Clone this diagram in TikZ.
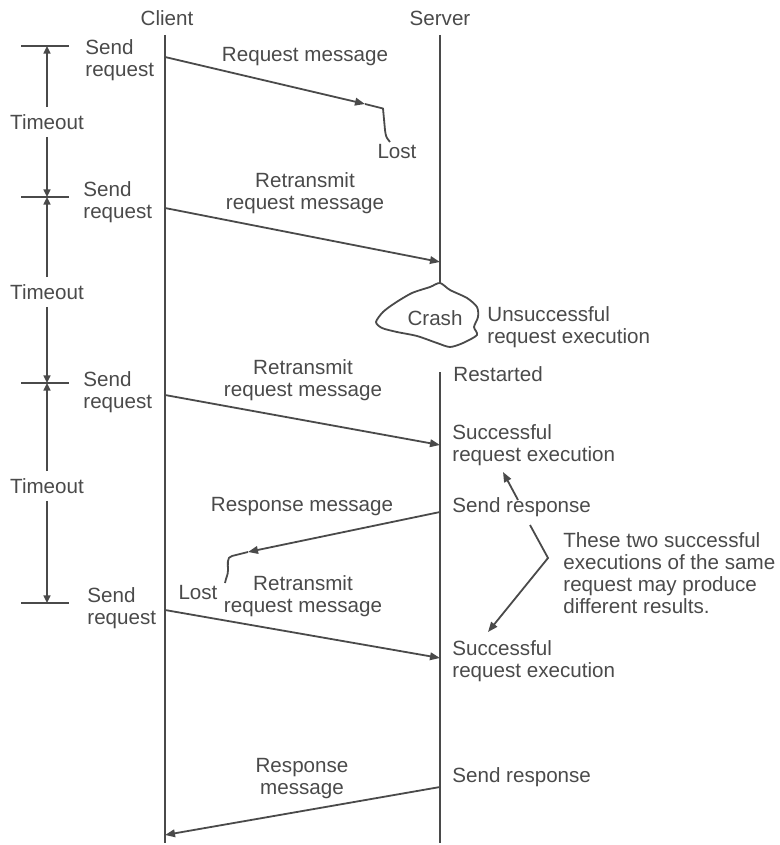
\documentclass[tikz,border=0pt]{standalone}
\usepackage{fontspec}
\setmainfont{Liberation Sans}
\usetikzlibrary{arrows.meta}
\definecolor{ink}{HTML}{4A4A4A}
\begin{document}
\begin{tikzpicture}[x=0.5pt,y=-0.5pt,
  every node/.style={inner sep=0pt, text=ink, font=\fontsize{10.3}{11}\selectfont},
  line/.style={draw=ink, line width=0.9pt},
  msg/.style={line, -{Triangle[length=5pt,width=3.8pt]}},
  tick/.style={line, -{Triangle[length=3.8pt,width=3.4pt]}},
  lbl/.style={align=center},
  note/.style={align=left, anchor=west},
  tlabel/.style={inner ysep=3.5pt, inner xsep=0pt}]
\useasboundingbox (0,0) rectangle (780,845);

% lifeline headers
\node (client) at (167,18) {Client};
\node (server) at (440,18) {Server};
\coordinate (cTop) at (165,35);
\coordinate (cBot) at (165,843);
\coordinate (sTop) at (440,35);
\coordinate (sCrash) at (440,283);
\coordinate (sRestart) at (440,372);
\coordinate (sBot) at (440,843);
\draw[line] (cTop) -- (cBot);
\draw[line] (sTop) -- (sCrash);
\draw[line] (sRestart) -- (sBot);

% timeout markers
\foreach \i/\y in {1/46,2/197,3/383,4/603}{
  \coordinate (bar\i) at (47,\y);
  \coordinate (barL\i) at (21,\y);
  \coordinate (barR\i) at (69,\y);
  \draw[line] (barL\i) -- (barR\i);
}
\node[tlabel] (to1) at (47,122) {Timeout};
\node[tlabel] (to2) at (47,292) {Timeout};
\node[tlabel] (to3) at (47,486) {Timeout};
\draw[tick] (to1) -- (bar1);
\draw[tick] (to1) -- (bar2);
\draw[tick] (to2) -- (bar2);
\draw[tick] (to2) -- (bar3);
\draw[tick] (to3) -- (bar3);
\draw[tick] (to3) -- (bar4);

% send request labels
\node[note] (sr1) at (85,60) {Send\\request};
\node[note] (sr2) at (83,202) {Send\\request};
\node[note] (sr3) at (83,392) {Send\\request};
\node[note] (sr4) at (87,608) {Send\\request};

% first request, lost on the way
\coordinate (m1s) at (165,57);
\coordinate (lost1) at (365,104);
\coordinate (l1a) at (383,108.5);
\coordinate (l1b) at (385,130);
\coordinate (l1c) at (390,142);
\draw[msg] (m1s) -- (lost1);
\draw[line, line join=round] (lost1) -- (l1a) -- (l1b) .. controls (386,137) .. (l1c);
\node (m1l) at (305,57) {Request message};
\node (lostA) at (397,152) {Lost};

% retransmission reaching the server before the crash
\coordinate (m2s) at (165,208);
\coordinate (m2e) at (440,262);
\draw[msg] (m2s) -- (m2e);
\node[lbl] (m2l) at (305,193) {Retransmit\\request message};

% crash
\draw[line, line join=round] plot[smooth cycle, tension=0.45] coordinates {
  (440,283) (430,287) (412,293) (395,303) (383,312) (376,322) (382,328)
  (397,332) (417,336) (437,343) (450,347) (463,343) (477,335) (474,327)
  (478,317) (477,307) (467,298) (450,290)};
\node (crash) at (435,318) {Crash};
\node[note] (unsucc) at (487,327) {Unsuccessful\\request execution};
\node[note] (restart) at (453,374) {Restarted};

% second retransmission
\coordinate (m3s) at (165,395);
\coordinate (m3e) at (440,445);
\draw[msg] (m3s) -- (m3e);
\node[lbl] (m3l) at (303,380) {Retransmit\\request message};
\node[note] (succ1) at (452,445) {Successful\\request execution};

% response, lost on the way back
\coordinate (r1s) at (440,512);
\coordinate (lost2) at (248,552);
\coordinate (l2a) at (232,556);
\coordinate (l2b) at (228,570);
\coordinate (l2c) at (225,583);
\draw[msg] (r1s) -- (lost2);
\draw[line] (lost2) -- (l2a) to[out=190,in=90] (l2b) to[out=270,in=80] (l2c);
\node (r1l) at (302,507) {Response message};
\node[note] (sresp1) at (452,507) {Send response};
\node (lostB) at (198,593) {Lost};

% third retransmission
\coordinate (m4s) at (165,610);
\coordinate (m4e) at (440,658);
\draw[msg] (m4s) -- (m4e);
\node[lbl] (m4l) at (303,596) {Retransmit\\request message};
\node[note] (succ2) at (452,661) {Successful\\request execution};

% final response
\coordinate (r2s) at (440,787);
\coordinate (r2e) at (165,835);
\draw[msg] (r2s) -- (r2e);
\node[lbl] (r2l) at (302,779) {Response\\message};
\node[note] (sresp2) at (452,777) {Send response};

% remark on the duplicate executions
\node[note] (remark) at (563,573) {These two successful\\executions of the same\\request may produce\\different results.};
\coordinate (pUpS) at (518,500);
\coordinate (pUpE) at (503,472);
\coordinate (pA) at (530,525);
\coordinate (pV) at (548,558);
\coordinate (pDn) at (488,632);
\draw[msg] (pUpS) -- (pUpE);
\draw[msg] (pA) -- (pV) -- (pDn);
\end{tikzpicture}
\end{document}
